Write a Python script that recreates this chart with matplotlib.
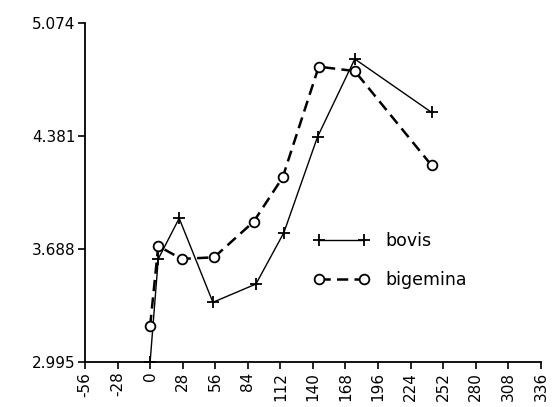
import matplotlib
matplotlib.use("Agg")
import matplotlib.pyplot as plt

# values (x in days, y in log units)
bovis_x = [0, 7, 25, 54, 91, 115, 144, 176, 242]
bovis_y = [2.995, 3.627, 3.876, 3.361, 3.473, 3.788, 4.376, 4.853, 4.526]

bigemina_x = [0, 7, 27, 55, 89, 114, 145, 176, 242]
bigemina_y = [3.216, 3.706, 3.627, 3.637, 3.855, 4.127, 4.806, 4.779, 4.201]

x_ticks = [-56, -28, 0, 28, 56, 84, 112, 140, 168, 196, 224, 252, 280, 308, 336]
x_tick_labels = ["-56", "-28", "0", "28", "56", "84", "112", "140", "168",
                 "196", "224", "252", "280", "308", "336"]
y_ticks = [2.995, 3.688, 4.381, 5.074]
y_tick_labels = ["2.995", "3.688", "4.381", "5.074"]

plt.rcParams["font.family"] = ["DejaVu Sans"]

fig = plt.figure(figsize=(5.53, 4.07), dpi=100)
ax = fig.add_axes([0.1537, 0.1106, 0.8243, 0.833])

ax.plot(bovis_x, bovis_y, color="black", lw=1.0, marker="+", ms=9,
        mew=1.3, label="bovis")
ax.plot(bigemina_x, bigemina_y, color="black", lw=1.8, ls=(0, (4.5, 2.5)),
        marker="o", ms=7, mfc="white", mew=1.3, label="bigemina")

ax.set_xlim(-56, 336)
ax.set_ylim(2.995, 5.074)
ax.set_xticks(x_ticks)
ax.set_xticklabels(x_tick_labels, rotation=90, fontsize=11)
ax.set_yticks(y_ticks)
ax.set_yticklabels(y_tick_labels, fontsize=11)

for side in ("top", "right"):
    ax.spines[side].set_visible(False)
ax.spines["left"].set_linewidth(1.3)
ax.spines["bottom"].set_linewidth(1.3)
ax.tick_params(direction="out", length=5, width=1.2, pad=2)

leg = ax.legend(loc="upper left", bbox_to_anchor=(0.468, 0.43), frameon=False,
                numpoints=2, handlelength=3.2, handletextpad=0.9,
                labelspacing=1.2, fontsize=12.5)

fig.savefig("out.png", dpi=100)
